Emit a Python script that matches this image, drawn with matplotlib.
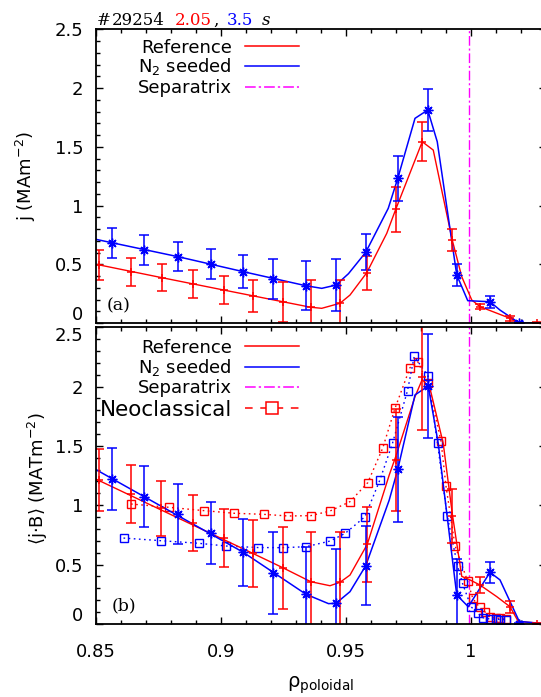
import numpy as np
import matplotlib
matplotlib.use("Agg")
import matplotlib.pyplot as plt
from matplotlib.lines import Line2D
from matplotlib.ticker import MultipleLocator, FuncFormatter

# ---------------- dados ----------------
# painel (a): j
rho_ref_a = [0.8512, 0.864, 0.8763, 0.8889, 0.901, 0.9129, 0.9247, 0.9359, 0.9476, 0.9583, 0.9699, 0.9805, 0.9925, 1.0036, 1.0156, 1.0263]
j_ref_a = [0.494, 0.437, 0.386, 0.332, 0.281, 0.23, 0.181, 0.134, 0.168, 0.428, 0.968, 1.543, 0.706, 0.139, 0.04, 0.0]
j_ref_a_err = [0.128, 0.12, 0.113, 0.115, 0.12, 0.14, 0.17, 0.23, 0.2, 0.145, 0.19, 0.167, 0.093, 0.02, 0.02, 0.01]

rho_n2_a = [0.8563, 0.8692, 0.8829, 0.896, 0.9089, 0.9209, 0.934, 0.946, 0.9579, 0.9707, 0.9827, 0.9943, 1.0076, 1.0193]
j_n2_a = [0.683, 0.621, 0.564, 0.502, 0.437, 0.374, 0.317, 0.323, 0.602, 1.231, 1.813, 0.409, 0.181, 0.0]
j_n2_a_err = [0.128, 0.128, 0.123, 0.127, 0.138, 0.17, 0.21, 0.22, 0.152, 0.19, 0.18, 0.097, 0.05, 0.01]

fit_ref_rho_a = [0.85, 0.8763, 0.901, 0.9247, 0.9359, 0.9403, 0.9476, 0.9516, 0.9583, 0.9663, 0.9699, 0.9805, 0.9849, 0.9925, 0.9963, 1.0003, 1.0036, 1.0156, 1.0193, 1.03]
fit_ref_j_a = [0.50, 0.386, 0.281, 0.181, 0.134, 0.125, 0.168, 0.238, 0.428, 0.763, 0.968, 1.543, 1.472, 0.706, 0.394, 0.196, 0.139, 0.04, 0.0, 0.0]

fit_n2_rho_a = [0.85, 0.8829, 0.9089, 0.934, 0.9403, 0.946, 0.951, 0.9579, 0.9669, 0.9707, 0.9776, 0.9827, 0.9865, 0.9943, 0.9987, 1.0076, 1.0116, 1.0193, 1.03]
fit_n2_j_a = [0.712, 0.564, 0.437, 0.317, 0.295, 0.323, 0.42, 0.602, 0.976, 1.231, 1.742, 1.813, 1.543, 0.409, 0.19, 0.181, 0.11, 0.0, 0.0]

# painel (b): <j.B>
rho_ref_b = [0.8512, 0.864, 0.876, 0.8889, 0.901, 0.9127, 0.9247, 0.9359, 0.9476, 0.9585, 0.9699, 0.9805, 0.9925, 1.0036, 1.0156, 1.0263]
jb_ref = [1.212, 1.094, 0.974, 0.847, 0.721, 0.594, 0.473, 0.355, 0.35, 0.67, 1.381, 2.083, 0.91, 0.327, 0.144, 0.0]
jb_ref_err = [0.263, 0.243, 0.232, 0.236, 0.246, 0.284, 0.347, 0.42, 0.42, 0.316, 0.43, 0.45, 0.23, 0.07, 0.05, 0.01]

rho_n2_b = [0.8563, 0.8692, 0.8829, 0.896, 0.9089, 0.9209, 0.934, 0.946, 0.9579, 0.9707, 0.9829, 0.9943, 1.0076, 1.0193]
jb_n2 = [1.221, 1.072, 0.923, 0.768, 0.603, 0.426, 0.249, 0.173, 0.49, 1.302, 2.005, 0.243, 0.434, 0.0]
jb_n2_err = [0.264, 0.257, 0.253, 0.26, 0.284, 0.347, 0.40, 0.46, 0.335, 0.44, 0.44, 0.3, 0.09, 0.01]

fit_ref_rho_b = [0.85, 0.9127, 0.9247, 0.9359, 0.9436, 0.9476, 0.9516, 0.9585, 0.9673, 0.9699, 0.9776, 0.9805, 0.9836, 0.9889, 0.9925, 0.9963, 0.9996, 1.0036, 1.0103, 1.0156, 1.0189, 1.03]
fit_ref_jb = [1.22, 0.594, 0.473, 0.355, 0.321, 0.35, 0.411, 0.67, 1.255, 1.41, 1.915, 2.06, 1.985, 1.52, 0.93, 0.40, 0.37, 0.327, 0.229, 0.144, 0.02, 0.0]

fit_n2_rho_b = [0.85, 0.9089, 0.934, 0.943, 0.946, 0.9516, 0.9579, 0.9673, 0.9707, 0.9776, 0.9829, 0.9869, 0.9943, 0.9989, 1.0023, 1.0076, 1.0116, 1.0193, 1.03]
fit_n2_jb = [1.30, 0.603, 0.249, 0.17, 0.173, 0.271, 0.49, 1.044, 1.302, 1.93, 2.005, 1.52, 0.243, 0.144, 0.257, 0.434, 0.37, 0.02, 0.0]

neo_ref_rho = [0.864, 0.8793, 0.8933, 0.9053, 0.917, 0.9269, 0.9359, 0.9436, 0.9516, 0.9587, 0.9647, 0.9696, 0.9756, 0.9787, 0.9827, 0.988, 0.990, 0.9936, 0.9986, 1.0007, 1.0034, 1.0055, 1.0076, 1.0099, 1.0117, 1.0138]
neo_ref_jb = [1.01, 0.982, 0.954, 0.932, 0.923, 0.909, 0.912, 0.951, 1.03, 1.19, 1.482, 1.817, 2.16, 2.21, 2.03, 1.541, 1.16, 0.66, 0.361, 0.215, 0.139, 0.102, 0.06, 0.05, 0.045, 0.04]

neo_n2_rho = [0.861, 0.8758, 0.891, 0.902, 0.9148, 0.9248, 0.934, 0.9437, 0.9497, 0.9576, 0.9635, 0.9686, 0.9746, 0.9773, 0.9828, 0.9866, 0.9905, 0.9946, 0.9966, 1.0, 1.0028, 1.0048, 1.0076, 1.01, 1.0117, 1.0138]
neo_n2_jb = [0.723, 0.701, 0.679, 0.656, 0.643, 0.642, 0.65, 0.698, 0.763, 0.903, 1.21, 1.522, 1.966, 2.255, 2.09, 1.522, 0.909, 0.49, 0.341, 0.144, 0.088, 0.051, 0.04, 0.04, 0.035, 0.035]

rho_sep = 0.9993

#------------------------------------
W, H = 541, 697
RED = '#ff0000'
BLUE = '#0000ff'
MAG = '#ff00ff'
plt.rcParams['font.family'] = 'DejaVu Sans'
plt.rcParams['mathtext.fontset'] = 'dejavusans'

fig = plt.figure(figsize=(W/100, H/100), dpi=100)

def fx(px):
    return px / W

def fy(py):
    return 1 - py / H

ax_a = fig.add_axes([fx(96), fy(323), 450/W, (323 - 29.3)/H])
ax_b = fig.add_axes([fx(96), fy(623.8), 450/W, (623.8 - 327.3)/H])

def rotulo_y(ax, v, dy):
    # rotulo deslocado (como no gnuplot original)
    ax.annotate('%g' % v, xy=(0, v), xycoords=('axes fraction', 'data'), xytext=(-12.5, dy),
                textcoords='offset pixels', ha='right', va='center', fontsize=13)

def estilo(ax, deslocados):
    ax.set_xlim(0.85, 1.03)
    ax.set_ylim(0, 2.5)
    ax.xaxis.set_major_locator(MultipleLocator(0.05))
    ax.xaxis.set_minor_locator(MultipleLocator(0.01))
    ax.yaxis.set_major_locator(MultipleLocator(0.5))
    ax.yaxis.set_minor_locator(MultipleLocator(0.1))
    ax.tick_params(which='both', direction='in', top=True, right=True, width=1.0, labelsize=13)
    ax.tick_params(which='major', length=5)
    ax.tick_params(which='minor', length=3)
    ax.tick_params(axis='y', pad=9)
    ax.tick_params(axis='x', pad=14)
    ax.xaxis.set_major_formatter(FuncFormatter(lambda v, p: '%g' % round(v, 3)))
    ax.yaxis.set_major_formatter(FuncFormatter(
        lambda v, p: '' if any(abs(v - d) < 1e-9 for d in deslocados) else '%g' % round(v, 3)))
    for s in ax.spines.values():
        s.set_linewidth(1.3)
    ax.axvline(rho_sep, color=MAG, lw=1.0, ls=(0, (7, 2, 1.5, 2)))

estilo(ax_a, [0.0])
estilo(ax_b, [0.0, 2.5])
rotulo_y(ax_a, 0.0, 8)
rotulo_y(ax_b, 0.0, 8)
rotulo_y(ax_b, 2.5, -9)
ax_a.tick_params(labelbottom=False)

ast = (8, 2, 0)

# ---- (a)
ax_a.plot(fit_ref_rho_a, fit_ref_j_a, color=RED, lw=1.0)
ax_a.plot(fit_n2_rho_a, fit_n2_j_a, color=BLUE, lw=1.1)
ax_a.errorbar(rho_ref_a, j_ref_a, yerr=j_ref_a_err, fmt='+', color=RED, ms=6, mew=1.1,
              elinewidth=1.1, capsize=3.5, capthick=1.1)
ax_a.errorbar(rho_n2_a, j_n2_a, yerr=j_n2_a_err, fmt='none', ecolor=BLUE,
              elinewidth=1.1, capsize=3.5, capthick=1.1)
ax_a.plot(rho_n2_a, j_n2_a, ls='none', marker=ast, ms=7, mew=1.0, color=BLUE)
ax_a.set_ylabel('j (MAm$^{-2}$)', fontsize=13)
ax_a.yaxis.set_label_coords(-0.129, 0.5)

# ---- (b)
ax_b.plot(neo_ref_rho, neo_ref_jb, color=RED, lw=1.0, ls=(0, (1.2, 2.5)), marker='s', ms=5.5,
          mfc='none', mew=1.0)
ax_b.plot(neo_n2_rho, neo_n2_jb, color=BLUE, lw=1.0, ls=(0, (1.2, 2.5)), marker='s', ms=5.5,
          mfc='none', mew=1.0)
ax_b.plot(fit_ref_rho_b, fit_ref_jb, color=RED, lw=1.0)
ax_b.plot(fit_n2_rho_b, fit_n2_jb, color=BLUE, lw=1.1)
ax_b.errorbar(rho_ref_b, jb_ref, yerr=jb_ref_err, fmt='+', color=RED, ms=6, mew=1.1,
              elinewidth=1.1, capsize=3.5, capthick=1.1)
ax_b.errorbar(rho_n2_b, jb_n2, yerr=jb_n2_err, fmt='none', ecolor=BLUE,
              elinewidth=1.1, capsize=3.5, capthick=1.1)
ax_b.plot(rho_n2_b, jb_n2, ls='none', marker=ast, ms=7, mew=1.0, color=BLUE)
ax_b.set_ylabel('⟨j·B⟩ (MATm$^{-2}$)', fontsize=13)
ax_b.yaxis.set_label_coords(-0.102, 0.49)
ax_b.set_xlabel(r'ρ$_{\mathrm{poloidal}}$', fontsize=14)
ax_b.xaxis.set_label_coords(0.5, -0.172)

#------------------------------------
# legendas desenhadas à mão (estilo gnuplot)
def legenda(linhas, base, itens):
    for yl, yb, (txt, cor, ls, fs, mk) in zip(linhas, base, itens):
        fig.text(fx(231.7), fy(yb), txt, ha='right', va='baseline', fontsize=fs)
        fig.add_artist(Line2D([fx(245), fx(299)], [fy(yl), fy(yl)], color=cor, ls=ls, lw=1.1))
        if mk:
            fig.add_artist(Line2D([fx(272)], [fy(yl)], color=cor, marker='s', ms=8, mfc='white', mew=1.1))

itens_a = [('Reference', RED, '-', 13, False),
           ('N$_2$ seeded', BLUE, '-', 13, False),
           ('Separatrix', MAG, (0, (7, 2, 1.5, 2)), 13, False)]
legenda([46, 66, 87.3], [52.7, 72, 93.3], itens_a)

itens_b = itens_a + [('Neoclassical', RED, (0, (5, 5)), 15.5, True)]
legenda([346, 366.5, 386.7, 408.3], [352.6, 372.5, 393.3, 416], itens_b)

# titulo colorido
tit = [(96.7, '#', 'k', 'normal'), (111.7, '29254', 'k', 'normal'), (175, '2.05', RED, 'normal'),
       (213.5, ',', 'k', 'normal'), (226.7, '3.5', BLUE, 'normal'), (261.7, 's', 'k', 'italic')]
for xp, t, c, st in tit:
    fig.text(fx(xp), fy(25), t, color=c, fontsize=12, family='DejaVu Serif', style=st, va='baseline')

fig.text(fx(107), fy(306), '(a)', fontsize=12.5, family='DejaVu Serif', va='center')
fig.text(fx(111.7), fy(606), '(b)', fontsize=12.5, family='DejaVu Serif', va='center')

fig.savefig('out.png', dpi=100)
